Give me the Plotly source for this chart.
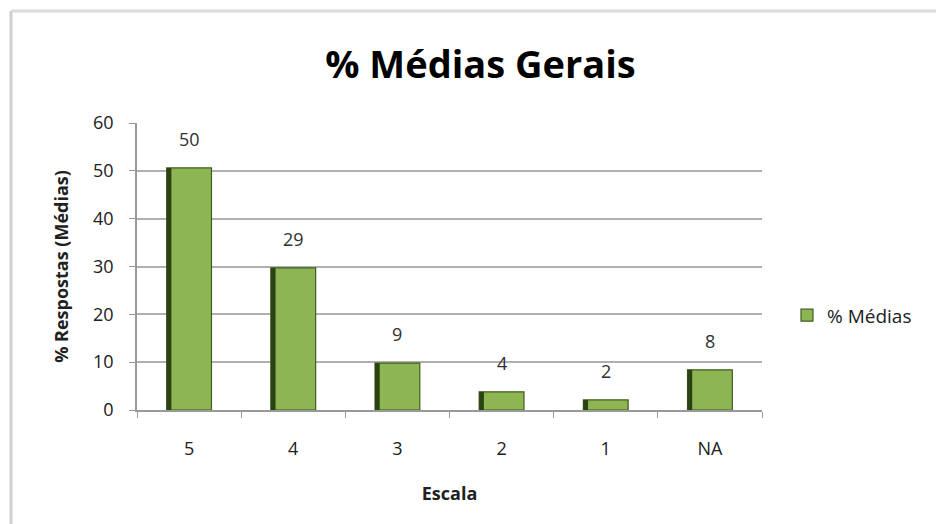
import plotly.graph_objects as go

# chart data
escala = ['5', '4', '3', '2', '1', 'NA']
medias = [50.6, 29.7, 9.8, 3.8, 2.1, 8.4]
rotulos = ['50', '29', '9', '4', '2', '8']

bar_color = '#8db553'
edge_color = '#3f5e1f'
dark_side = '#2b4212'
grid_color = '#b0b0b0'
font_name = 'Open Sans'

fig = go.Figure()

# main bars
fig.add_trace(go.Bar(x=escala, y=medias, name='% Médias', width=0.43,
                     marker=dict(color=bar_color, line=dict(color=edge_color, width=1.2))))

# dark left side of each bar (bevel look)
fig.add_trace(go.Bar(x=escala, y=medias, width=0.045, offset=-0.215,
                     marker=dict(color=dark_side, line=dict(width=0)),
                     showlegend=False, hoverinfo='skip'))

# value labels above the bars (category index used for the x position)
for i, (val, txt) in enumerate(zip(medias, rotulos)):
    fig.add_annotation(x=i, y=val, text=txt, showarrow=False, yanchor='bottom', yshift=15,
                       font=dict(family=font_name, size=18, color='#303030'))

# chart frame (top and left edge visible)
fig.add_shape(type='line', xref='paper', yref='paper', x0=-0.2016, x1=1.4, y0=1.39, y1=1.39,
              line=dict(color='#dcdcdc', width=3))
fig.add_shape(type='line', xref='paper', yref='paper', x0=-0.2016, x1=-0.2016, y0=-0.5, y1=1.39,
              line=dict(color='#cfcfcf', width=3))

fig.update_layout(
    width=944, height=524,
    margin=dict(l=129, r=190, t=115, b=122),
    paper_bgcolor='white', plot_bgcolor='white',
    barmode='overlay',
    title=dict(text='<b>% Médias Gerais</b>', x=0.5005, xanchor='center', y=0.891, yanchor='middle',
               font=dict(family=font_name, size=38, color='black')),
    font=dict(family=font_name, size=18, color='#202020'),
    legend=dict(x=1.04, y=0.33, xanchor='left', yanchor='middle',
                font=dict(family=font_name, size=19, color='#202020'), itemwidth=30),
    showlegend=True,
)

fig.update_xaxes(type='category',
                 title=dict(text='<b>Escala</b>', font=dict(family=font_name, size=18), standoff=28),
                 showline=True, linecolor='#999999', linewidth=1.5,
                 ticks='outside', tickson='boundaries', ticklen=6, tickcolor='#999999',
                 ticklabelstandoff=22, showgrid=False, tickfont=dict(size=18))
fig.update_yaxes(title=dict(text='<b>% Respostas (Médias)</b>', font=dict(family=font_name, size=18), standoff=20),
                 range=[0, 60], dtick=10, showline=True, linecolor='#999999', linewidth=1.5,
                 ticks='outside', ticklen=6, tickcolor='#999999', ticklabelstandoff=12,
                 showgrid=True, gridcolor=grid_color, gridwidth=1.5, zeroline=False,
                 tickfont=dict(size=18))

fig.write_html('out.html')
